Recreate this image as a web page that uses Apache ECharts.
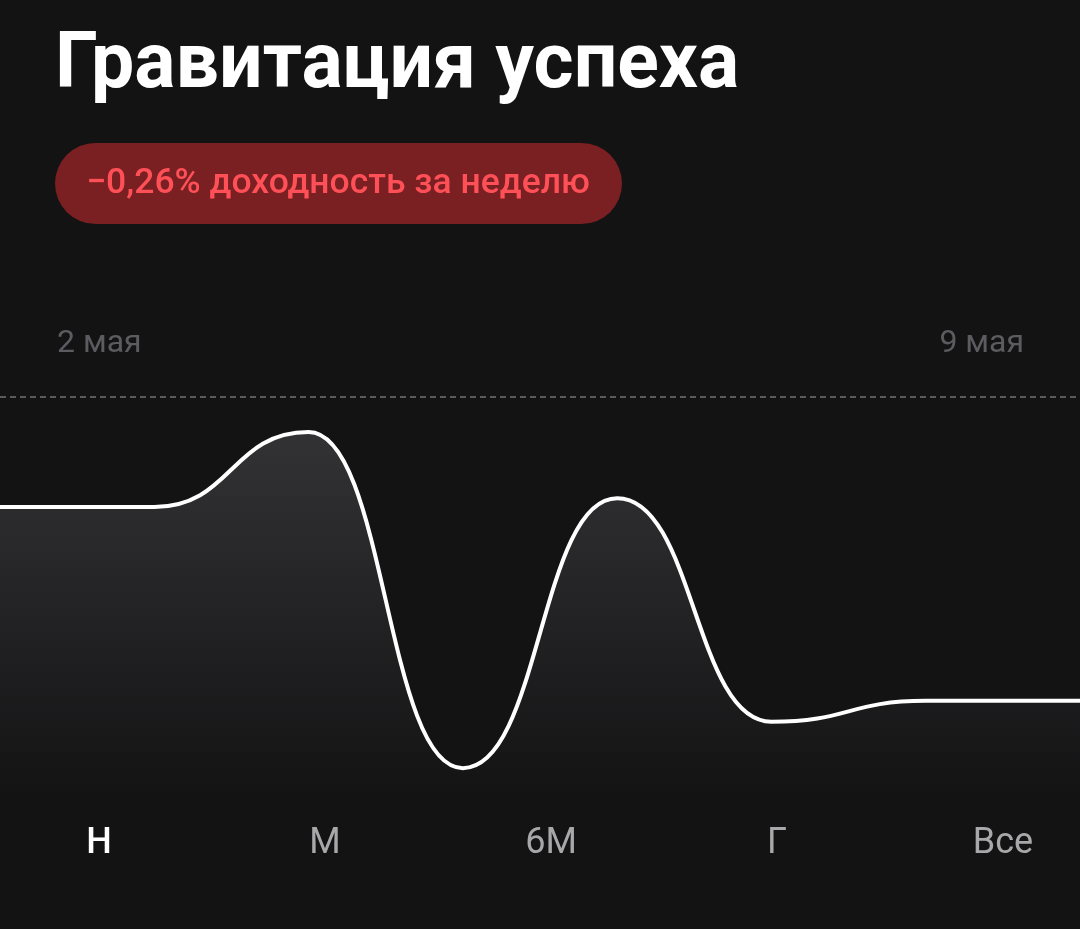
<!DOCTYPE html>
<html>
<head>
<meta charset="utf-8">
<style>
  html, body { margin: 0; padding: 0; background: #131314; }
  #chart { width: 1080px; height: 929px; }
</style>
<script src="https://cdn.jsdelivr.net/npm/echarts@6/dist/echarts.min.js"></script>
</head>
<body>
<div id="chart"></div>
<script>
const titleText = 'Гравитация успеха';
const badgeText = '−0,26% доходность за неделю';
const days = ['2 мая', '3 мая', '4 мая', '5 мая', '6 мая', '7 мая', '8 мая', '9 мая'];
const values = [72.7, 72.7, 91.3, 7.9, 74.9, 19.4, 24.6, 24.6];
const refLevel = 100;
const tabs = ['Н', 'М', '6М', 'Г', 'Все'];
const activeTab = 0;

const chart = echarts.init(document.getElementById('chart'), null, { renderer: 'canvas' });
const font = 'Roboto, "Noto Sans", sans-serif';

const tabCenters = [99, 325, 551, 777, 1003];
const graphics = [
  { type: 'text', left: 55, top: 29, style: { text: titleText, fill: '#ffffff', font: 'bold 77px ' + font } },
  { type: 'rect', left: 55, top: 143, shape: { width: 567, height: 81, r: 40.5 }, style: { fill: '#7a1f22' } },
  { type: 'text', x: 338, y: 184, style: { text: badgeText, fill: '#ff5058', font: '500 35.5px ' + font, align: 'center', verticalAlign: 'middle' } },
  { type: 'text', x: 57, y: 344, style: { text: days[0], fill: '#5c5c60', font: '32px ' + font, align: 'left', verticalAlign: 'middle' } },
  { type: 'text', x: 1024, y: 344, style: { text: days[days.length - 1], fill: '#5c5c60', font: '32px ' + font, align: 'right', verticalAlign: 'middle' } }
];
tabs.forEach((t, i) => {
  graphics.push({ type: 'text', x: tabCenters[i], y: 844, style: {
    text: t, fill: i === activeTab ? '#ffffff' : '#a8a8aa',
    font: (i === activeTab ? '500 ' : '') + '36px ' + font, align: 'center', verticalAlign: 'middle' } });
});

chart.setOption({
  backgroundColor: '#131314',
  animation: false,
  grid: { left: 0, right: 0, top: 397, bottom: 129 },
  xAxis: { type: 'category', data: days, boundaryGap: false, show: false },
  yAxis: { type: 'value', min: 0, max: 100, show: false },
  graphic: graphics,
  series: [{
    type: 'line',
    data: values,
    smooth: 0.5,
    smoothMonotone: 'x',
    symbol: 'none',
    lineStyle: { color: '#ffffff', width: 4 },
    areaStyle: {
      color: new echarts.graphic.LinearGradient(0, 0, 0, 1, [
        { offset: 0, color: '#404042' },
        { offset: 0.5, color: '#29292b' },
        { offset: 1, color: '#131314' }
      ])
    },
    markLine: {
      silent: true,
      symbol: 'none',
      label: { show: false },
      lineStyle: { color: '#5a5a5c', type: [6, 4], width: 2 },
      data: [{ yAxis: refLevel }]
    }
  }]
});
</script>
</body>
</html>
